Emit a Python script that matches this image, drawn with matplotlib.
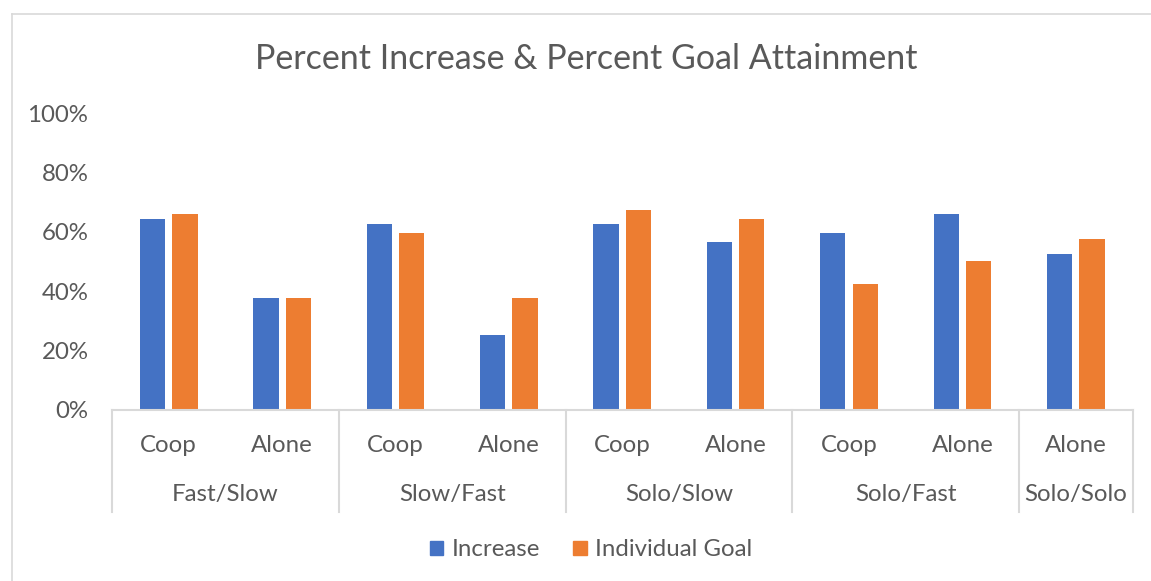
import numpy as np
import matplotlib
matplotlib.use('Agg')
import matplotlib.pyplot as plt
import matplotlib.transforms as mtransforms
from matplotlib.lines import Line2D
from matplotlib.patches import Patch

plt.rcParams['font.family'] = ['Lato', 'DejaVu Sans']

# 数据
categories = ['Coop', 'Alone', 'Coop', 'Alone', 'Coop', 'Alone', 'Coop', 'Alone', 'Alone']
groups = ['Fast/Slow', 'Slow/Fast', 'Solo/Slow', 'Solo/Fast', 'Solo/Solo']
group_sizes = [2, 2, 2, 2, 1]
increase = [0.642, 0.377, 0.627, 0.252, 0.627, 0.564, 0.596, 0.659, 0.526]
goal = [0.659, 0.377, 0.596, 0.377, 0.673, 0.642, 0.423, 0.502, 0.575]

blue = '#4472C4'
orange = '#ED7D31'
text_col = '#595959'
line_col = '#D9D9D9'

W, H = 1151, 581
fig = plt.figure(figsize=(W / 100, H / 100), dpi=100)

# 坐标轴位置（像素换算）
ax_left, ax_right = 112, 1132.5
ax_bottom, ax_top = 410, 113
ax = fig.add_axes([ax_left / W, 1 - ax_bottom / H,
                   (ax_right - ax_left) / W, (ax_bottom - ax_top) / H])
ax_h = ax_bottom - ax_top

x = np.arange(len(categories))
bw = 0.223
off = 0.143
ax.bar(x - off, increase, bw, color=blue, label='Increase')
ax.bar(x + off, goal, bw, color=orange, label='Individual Goal')

fs = 17.3
ax.set_xlim(-0.5, len(categories) - 0.5)
ax.set_ylim(0, 1)
ax.set_yticks(np.arange(0, 1.01, 0.2))
ax.set_yticklabels([f'{int(round(v * 100))}%' for v in np.arange(0, 1.01, 0.2)])
ax.tick_params(axis='y', length=0, pad=17, labelsize=fs, labelcolor=text_col)
ax.set_xticks([])
for s in ['top', 'right', 'left']:
    ax.spines[s].set_visible(False)
ax.spines['bottom'].set_color(line_col)
ax.spines['bottom'].set_linewidth(1.5)

trans = mtransforms.blended_transform_factory(ax.transData, ax.transAxes)

def py(pix):
    # 像素 y -> 坐标轴比例
    return (ax_bottom - pix) / ax_h

# 分类标签
for i, c in enumerate(categories):
    ax.text(i, py(445), c, transform=trans, ha='center', va='center',
            fontsize=fs, color=text_col)

# 分组标签和分隔线
start = 0
bounds = [-0.5]
for g, n in zip(groups, group_sizes):
    center = start + (n - 1) / 2
    ax.text(center, py(495), g, transform=trans, ha='center', va='center',
            fontsize=fs, color=text_col)
    start += n
    bounds.append(start - 0.5)
for b in bounds:
    ax.add_line(Line2D([b, b], [0, py(512)], transform=trans, color=line_col,
                       lw=1.5, clip_on=False))

# 标题
fig.text(586 / W, 1 - 59 / H, 'Percent Increase & Percent Goal Attainment',
         ha='center', va='center', fontsize=24.5, color=text_col)

# 图例
handles = [Patch(color=blue), Patch(color=orange)]
fig.legend(handles, ['Increase', 'Individual Goal'], loc='center',
           bbox_to_anchor=(591 / W, 1 - 550 / H), ncol=2, frameon=False,
           fontsize=fs, labelcolor=text_col, handlelength=0.55, handleheight=0.55,
           handletextpad=0.35, columnspacing=1.4)

# 外框
fig.add_artist(Line2D([12 / W, 1], [1 - 14 / H, 1 - 14 / H], transform=fig.transFigure,
                      color=line_col, lw=1.2))
fig.add_artist(Line2D([12 / W, 12 / W], [0, 1 - 14 / H], transform=fig.transFigure,
                      color=line_col, lw=1.2))

fig.savefig('out.png', dpi=100)
